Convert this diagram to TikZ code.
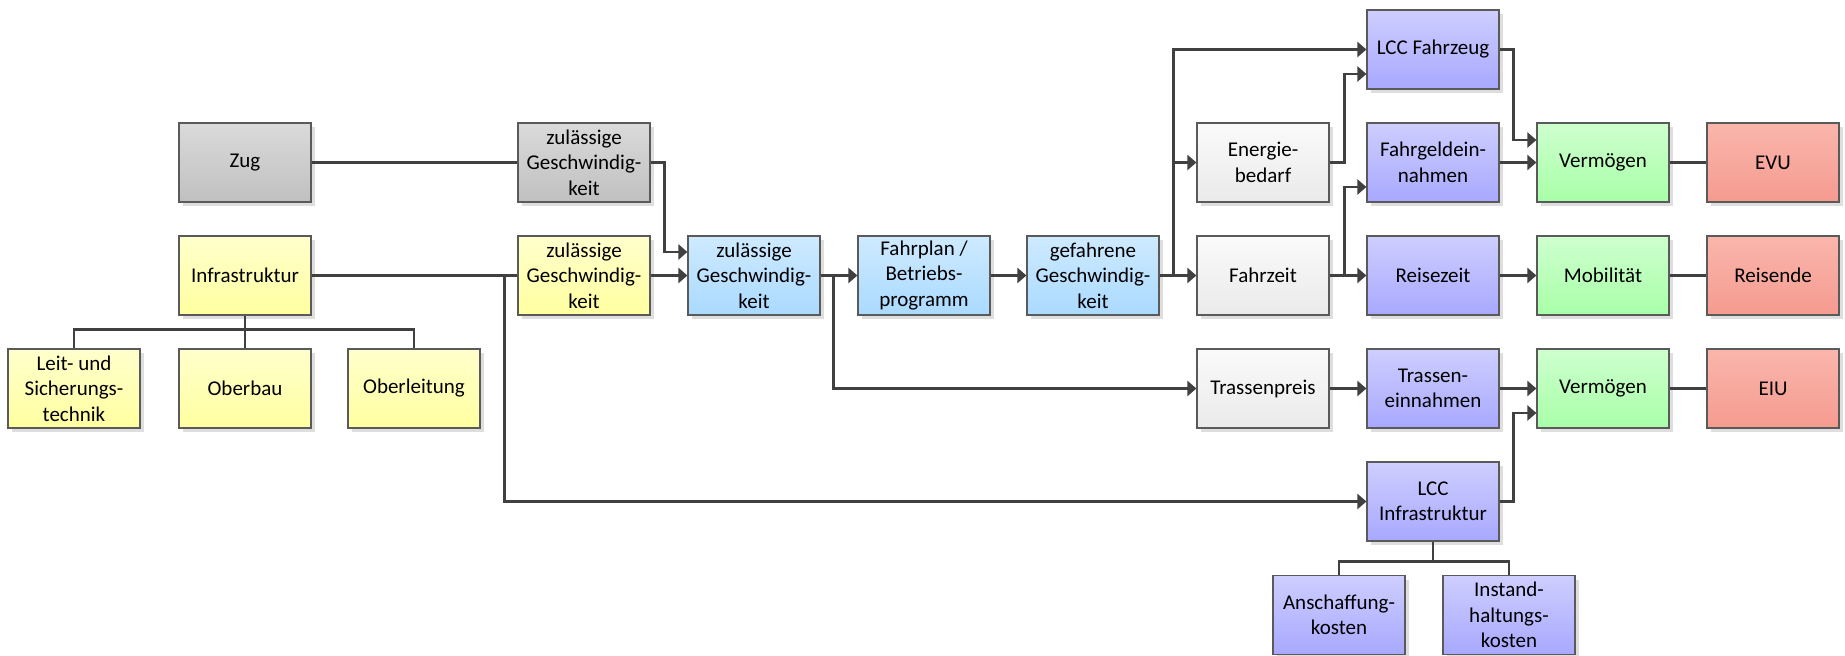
\documentclass[tikz,border=0pt]{standalone}
\usepackage{fontspec}
\setmainfont{Carlito}
\usetikzlibrary{arrows.meta,shadows}

\definecolor{rand}{HTML}{5A5A5A}
\definecolor{linie}{HTML}{404040}

\tikzset{
	box/.style={draw=rand, line width=1.2pt, minimum width=132pt, minimum height=79pt,
		align=center, inner sep=2pt, font=\fontsize{21}{25.5}\selectfont,
		drop shadow={shadow xshift=4pt, shadow yshift=-4pt, fill=black!13, opacity=1}},
	grau/.style={box, top color={rgb,255:red,218;green,218;blue,218}, bottom color={rgb,255:red,192;green,192;blue,192}},
	gelb/.style={box, top color={rgb,255:red,255;green,255;blue,204}, bottom color={rgb,255:red,255;green,255;blue,160}},
	blau/.style={box, top color={rgb,255:red,206;green,234;blue,255}, bottom color={rgb,255:red,170;green,218;blue,255}},
	weiss/.style={box, top color={rgb,255:red,250;green,250;blue,250}, bottom color={rgb,255:red,234;green,234;blue,234}},
	lila/.style={box, top color={rgb,255:red,206;green,206;blue,255}, bottom color={rgb,255:red,168;green,168;blue,255}},
	gruen/.style={box, top color={rgb,255:red,206;green,255;blue,206}, bottom color={rgb,255:red,168;green,255;blue,168}},
	rot/.style={box, top color={rgb,255:red,250;green,182;blue,172}, bottom color={rgb,255:red,245;green,155;blue,143}},
	lin/.style={draw=linie, line width=2.5pt},
	arr/.style={lin, -{Triangle[length=9pt,width=15pt]}},
}

\begin{document}
\begin{tikzpicture}[x=1pt,y=-1pt]
		\useasboundingbox (0,0) rectangle (1845,656);
		% linke Seite
		\node[grau] (zug) at (245,162.5) {Zug};
		\node[grau] (zulA) at (584,162.5) {zulässige\\Geschwindig-\\keit};
		\node[gelb] (infra) at (245,275.5) {Infrastruktur};
		\node[gelb] (zulB) at (584,275.5) {zulässige\\Geschwindig-\\keit};
		\node[gelb] (lst) at (74,388.5) {Leit- und\\Sicherungs-\\technik};
		\node[gelb] (oberbau) at (245,388.5) {Oberbau};
		\node[gelb] (oberltg) at (414,388.5) {Oberleitung};
		% Betrieb
		\node[blau] (zulC) at (754,275.5) {zulässige\\Geschwindig-\\keit};
		\node[blau] (fahrplan) at (924,275.5) {Fahrplan /\\Betriebs-\\programm};
		\node[blau] (gefahren) at (1093,275.5) {gefahrene\\Geschwindig-\\keit};
		\node[weiss] (energie) at (1263,162.5) {Energie-\\bedarf};
		\node[weiss] (fahrzeit) at (1263,275.5) {Fahrzeit};
		\node[weiss] (trasse) at (1263,388.5) {Trassenpreis};
		% Kosten und Erloese
		\node[lila] (lccfz) at (1433,49.5) {LCC Fahrzeug};
		\node[lila] (fahrgeld) at (1433,162.5) {Fahrgeldein-\\nahmen};
		\node[lila] (reisezeit) at (1433,275.5) {Reisezeit};
		\node[lila] (trassein) at (1433,388.5) {Trassen-\\einnahmen};
		\node[lila] (lccinf) at (1433,501.5) {LCC\\Infrastruktur};
		\node[lila] (anschaff) at (1339,615) {Anschaffung-\\kosten};
		\node[lila] (instand) at (1509,615) {Instand-\\haltungs-\\kosten};
		\node[gruen] (verm1) at (1603,162.5) {Vermögen};
		\node[gruen] (mobil) at (1603,275.5) {Mobilität};
		\node[gruen] (verm2) at (1603,388.5) {Vermögen};
		\node[rot] (evu) at (1773,162.5) {EVU};
		\node[rot] (reisende) at (1773,275.5) {Reisende};
		\node[rot] (eiu) at (1773,388.5) {EIU};

		% Verbindungen
		\draw[lin] (zug) -- (zulA);
		\draw[lin] (infra) -- (zulB);
		\draw[lin] (infra.south) -- ++(0,14) -| (lst.north);
		\draw[lin] (infra.south) -- ++(0,14) -| (oberltg.north);
		\draw[lin] (infra) -- (oberbau);
		\draw[arr] (infra.east) -- ++(193,0) |- (lccinf.west);
		\draw[arr] (zulA.east) -- ++(14,0) |- ([yshift=23.5pt]zulC.west);
		\draw[arr] (zulB) -- (zulC);
		\draw[arr] (zulC) -- (fahrplan);
		\draw[arr] (zulC.east) -- ++(13,0) |- (trasse.west);
		\draw[arr] (fahrplan) -- (gefahren);
		\draw[arr] (gefahren) -- (fahrzeit);
		\draw[arr] (gefahren.east) -- ++(14,0) |- (energie.west);
		\draw[arr] (gefahren.east) -- ++(14,0) |- (lccfz.west);
		\draw[arr] (energie.east) -- ++(15,0) |- ([yshift=-24.5pt]lccfz.west);
		\draw[arr] (fahrzeit) -- (reisezeit);
		\draw[arr] (fahrzeit.east) -- ++(15,0) |- ([yshift=-24.5pt]fahrgeld.west);
		\draw[arr] (trasse) -- (trassein);
		\draw[arr] (lccfz.east) -- ++(14,0) |- ([yshift=22.5pt]verm1.west);
		\draw[arr] (fahrgeld) -- (verm1);
		\draw[arr] (reisezeit) -- (mobil);
		\draw[arr] (trassein) -- (verm2);
		\draw[arr] (lccinf.east) -- ++(14,0) |- ([yshift=-24.5pt]verm2.west);
		\draw[lin] (lccinf.south) -- ++(0,20) -| (anschaff.north);
		\draw[lin] (lccinf.south) -- ++(0,20) -| (instand.north);
		\draw[lin] (verm1) -- (evu);
		\draw[lin] (mobil) -- (reisende);
		\draw[lin] (verm2) -- (eiu);
		\end{tikzpicture}
\end{document}
